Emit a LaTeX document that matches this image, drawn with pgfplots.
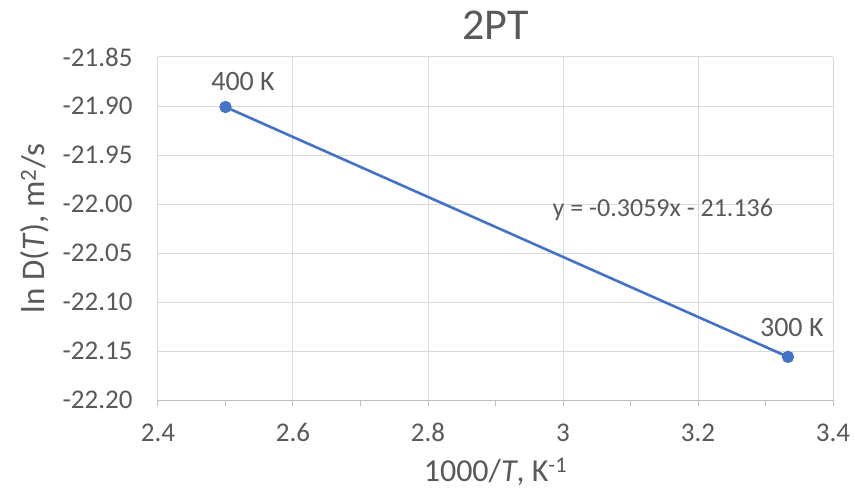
\documentclass[border=0pt]{standalone}
\usepackage{fontspec}
\setmainfont{Carlito}
\usepackage{pgfplots}
\pgfplotsset{compat=1.18}
\definecolor{txt}{HTML}{595959}
\definecolor{gridc}{HTML}{D9D9D9}
\definecolor{axc}{HTML}{BFBFBF}
\definecolor{ser}{HTML}{4472C4}
\begin{document}
\begin{tikzpicture}
\useasboundingbox (-158pt,-91pt) rectangle (696pt,400pt);
\begin{axis}[
  at={(0,0)}, anchor=south west,
  scale only axis, width=675pt, height=343pt,
  xmin=2.4, xmax=3.4, ymin=-22.20, ymax=-21.85,
  xtick={2.4,2.6,...,3.41}, ytick={-22.20,-22.15,...,-21.84},
  minor x tick num=1,
  grid=major, major grid style={gridc, line width=1pt},
  axis x line*=bottom, axis y line*=left,
  x axis line style={axc, line width=1pt, -},
  y axis line style={draw=none},
  tick align=outside,
  major tick length=6pt, minor tick length=6pt,
  x tick style={axc, line width=1pt},
  y tick style={draw=none},
  /pgf/number format/assume math mode=true,
  yticklabel style={/pgf/number format/fixed, /pgf/number format/precision=2, /pgf/number format/fixed zerofill, font=\fontsize{27}{32}\selectfont, text=txt, xshift=-16pt},
  xticklabel style={font=\fontsize{27}{32}\selectfont, text=txt, yshift=-14pt},
  ticklabel style={text=txt},
  title={2PT},
  title style={at={(axis description cs:0.5,1)}, anchor=center, yshift=26pt, font=\fontsize{44}{50}\selectfont, text=txt},
  xlabel={1000/\textit{T}, K\textsuperscript{-1}},
  ylabel={ln D(\textit{T}), m\textsuperscript{2}/s},
  xlabel style={at={(axis description cs:0.5,-0.21)}, anchor=center, font=\fontsize{32}{38}\selectfont, text=txt},
  ylabel style={at={(axis description cs:-0.1822,0.5)}, anchor=center, font=\fontsize{33}{38}\selectfont, text=txt},
]
\addplot[ser, line width=2.6pt, mark=*, mark size=4.8pt, mark options={ser}] coordinates {(2.5,-21.901) (3.3333,-22.156)};
\node[text=txt, font=\fontsize{28}{32}\selectfont, anchor=center] at (axis cs:2.526,-21.8755) {400 K};
\node[text=txt, font=\fontsize{28}{32}\selectfont, anchor=center] at (axis cs:3.339,-22.1265) {300 K};
\node[text=txt, font=\fontsize{26}{30}\selectfont, anchor=center] at (axis cs:3.148,-22.006) {y = -0.3059x - 21.136};
\end{axis}
\end{tikzpicture}
\end{document}
